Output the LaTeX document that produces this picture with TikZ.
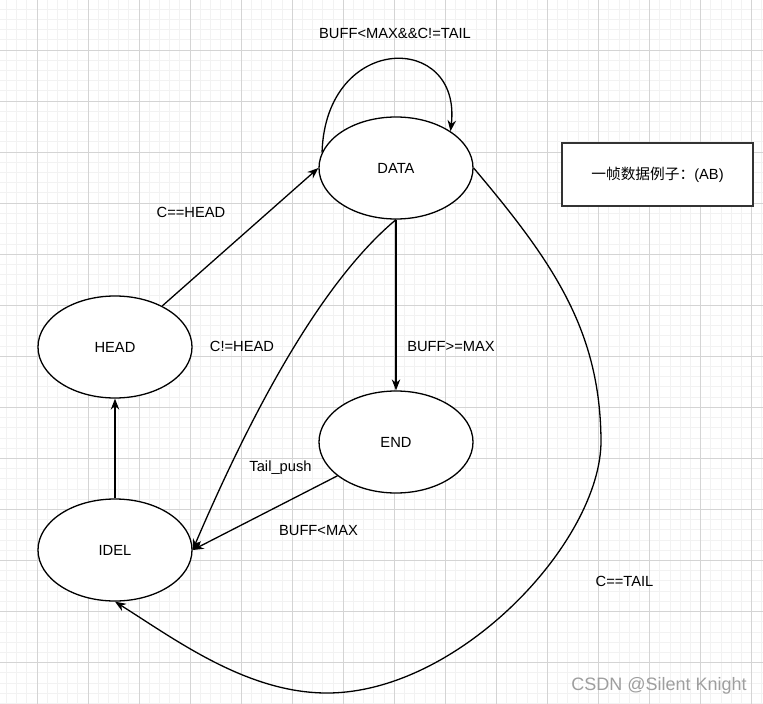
\documentclass[tikz,border=0pt]{standalone}
\usepackage{fontspec}
\setmainfont{Liberation Sans}
\newfontfamily\cjk{Noto Sans CJK SC}
\usetikzlibrary{shapes.geometric,arrows.meta}
\begin{document}
\begin{tikzpicture}[x=1pt,y=-1pt,
  state/.style={ellipse,draw=black,fill=white,line width=1.3pt,minimum width=154pt,minimum height=102pt,inner sep=0pt,font=\fontsize{14.7}{17}\selectfont},
  lbl/.style={inner sep=0pt,text height=10.5pt,text depth=0pt,font=\fontsize{14.7}{17}\selectfont},
  edge/.style={line width=1.3pt,-{Stealth[length=11pt,width=8.5pt]}},
  minorline/.style={draw=black!5,line width=1pt},
  majorline/.style={draw=black!17,line width=1pt},
  notebox/.style={draw=black!80,fill=white,line width=1.5pt,minimum width=191pt,minimum height=63pt,inner sep=0pt,font=\fontsize{14.7}{17}\selectfont}]
\useasboundingbox (0,0) rectangle (763,704);
\fill[white] (0,0) rectangle (763,704);
\begin{scope}
\clip (0,0) rectangle (763,704);
\foreach \i in {0,...,78} {\draw[minorline] ({-14+\i*10.21},0) -- ++(0,704);}
\foreach \i in {0,...,70} {\draw[minorline] (0,{-1+\i*10.21}) -- ++(763,0);}
\foreach \i in {0,...,15} {\draw[majorline] ({-14+\i*51.05},0) -- ++(0,704);}
\foreach \i in {0,...,14} {\draw[majorline] (0,{-1+\i*51.05}) -- ++(763,0);}
\end{scope}

\node[state] (data) at (396,168) {DATA};
\node[state] (head) at (115,347) {HEAD};
\node[state] (endn) at (396,442) {END};
\node[state] (idel) at (115,550) {IDEL};
\node[notebox] (note) at (657.5,174.5) {{\cjk 一帧数据例子：}(AB)};

\draw[edge] (head.41) -- (data.west);
\draw[edge] (data.168) .. controls (326,32) and (462,32) .. (data.34);
\draw[edge] (data.south) -- (endn.north);
\draw[edge] (data.south) .. controls (331.7,273.3) and (264.3,382.7) .. (idel.east);
\draw[edge] (endn.210) -- (idel.east);
\draw[edge] (idel.north) -- (head.south);
\draw[edge] (data.east) .. controls (553,262) and (600,330) .. (601,440)
  .. controls (602,540) and (460,693) .. (327,693)
  .. controls (247,693) and (176,640) .. (idel.south);

\node[lbl] (l1) at (395,33.5) {BUFF<MAX\&\&C!=TAIL};
\node[lbl] (l2) at (191,212) {C==HEAD};
\node[lbl] (l3) at (242,346) {C!=HEAD};
\node[lbl] (l4) at (451,346) {BUFF>=MAX};
\node[lbl] (l5) at (280.5,466.5) {Tail\_push};
\node[lbl] (l6) at (318.5,530.5) {BUFF<MAX};
\node[lbl] (l7) at (624.5,581.5) {C==TAIL};
\node[inner sep=0pt,text height=13pt,text depth=0pt,font=\fontsize{18}{20}\selectfont,text=black!38] (wm) at (659,683.5) {CSDN @Silent Knight};
\end{tikzpicture}
\end{document}
